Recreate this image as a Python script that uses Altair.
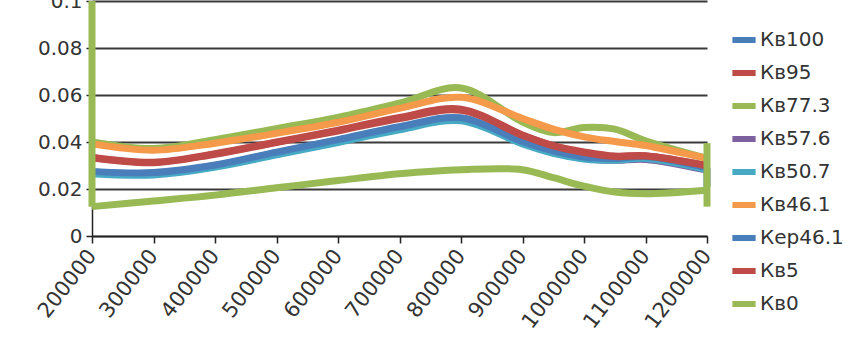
import altair as alt
import pandas as pd

# ---- data ----
x_grid = [200000, 300000, 400000, 500000, 600000, 700000, 800000, 900000,
          950000, 1000000, 1050000, 1100000, 1200000]

series_names = ["Кв100", "Кв95", "Кв77.3", "Кв57.6", "Кв50.7", "Кв46.1",
                "Кер46.1", "Кв5", "Кв0"]
series_colors = ["#4A7EBB", "#BE4B48", "#98B954", "#7D60A0", "#46AAC5",
                 "#F59A4B", "#4A7EBB", "#BE4B48", "#98B954"]

kv100 = [0.0272, 0.0267, 0.0300, 0.0355, 0.0408, 0.0463, 0.0500, 0.0400,
         0.0360, 0.0335, 0.0328, 0.0335, 0.0285]
kv95 = [0.0335, 0.0314, 0.0350, 0.0400, 0.0450, 0.0505, 0.0540, 0.0430,
        0.0385, 0.0358, 0.0340, 0.0342, 0.0300]
kv77 = [0.0400, 0.0372, 0.0410, 0.0457, 0.0505, 0.0565, 0.0630, 0.0485,
        0.0440, 0.0462, 0.0455, 0.0405, 0.0330]
kv57 = [0.0270, 0.0265, 0.0298, 0.0352, 0.0405, 0.0460, 0.0497, 0.0397,
        0.0357, 0.0330, 0.0322, 0.0326, 0.0280]
kv50 = [0.0265, 0.0260, 0.0293, 0.0345, 0.0398, 0.0452, 0.0490, 0.0392,
        0.0352, 0.0328, 0.0322, 0.0330, 0.0283]
kv46 = [0.0392, 0.0365, 0.0395, 0.0437, 0.0484, 0.0543, 0.0590, 0.0500,
        0.0455, 0.0422, 0.0402, 0.0385, 0.0330]
kep46 = [0.0275, 0.0270, 0.0302, 0.0357, 0.0410, 0.0465, 0.0503, 0.0402,
         0.0362, 0.0336, 0.0330, 0.0338, 0.0290]
kv5 = [0.0333, 0.0312, 0.0348, 0.0398, 0.0447, 0.0500, 0.0535, 0.0428,
       0.0383, 0.0355, 0.0338, 0.0340, 0.0298]
kv0 = [0.0125, 0.0149, 0.0174, 0.0205, 0.0236, 0.0265, 0.0282, 0.0282,
       0.0248, 0.0212, 0.0187, 0.0180, 0.0195]

# vertical strokes at the ends of some series
seg_series = ["Кер46.1", "Кв0", "Кв0"]
seg_x = [1200000, 200000, 1200000]
seg_y1 = [0.0290, 0.0125, 0.0125]
seg_y2 = [0.0210, 0.1000, 0.0395]

x_ticks = [200000, 300000, 400000, 500000, 600000, 700000, 800000, 900000,
           1000000, 1100000, 1200000]
y_ticks = [0, 0.02, 0.04, 0.06, 0.08, 0.1]

# ---- build tables ----
series_values = {
    "Кв100": kv100, "Кв95": kv95, "Кв77.3": kv77, "Кв57.6": kv57,
    "Кв50.7": kv50, "Кв46.1": kv46, "Кер46.1": kep46, "Кв5": kv5, "Кв0": kv0,
}
rows = []
for name in series_names:
    for i, (xv, yv) in enumerate(zip(x_grid, series_values[name])):
        rows.append({"series": name, "x": xv, "y": yv, "i": i})
df = pd.DataFrame(rows)
seg_df = pd.DataFrame({"series": seg_series, "x": seg_x, "y": seg_y1, "y2": seg_y2})

FONT = "DejaVu Sans"
color_scale = alt.Scale(domain=series_names, range=series_colors)

x_enc = alt.X("x:Q",
              scale=alt.Scale(domain=[200000, 1200000], nice=False, zero=False),
              axis=alt.Axis(values=x_ticks, format="d", title=None, grid=False,
                            labelAngle=-52, labelAlign="right",
                            labelBaseline="middle", labelPadding=9,
                            labelFontSize=21,
                            labelOverlap=False, tickSize=7))
y_enc = alt.Y("y:Q",
              scale=alt.Scale(domain=[0, 0.1], nice=False),
              axis=alt.Axis(values=y_ticks, format=".2~f", title=None,
                            grid=True, tickSize=6, labelPadding=4))
color_enc = alt.Color("series:N", scale=color_scale,
                      legend=alt.Legend(title=None, orient="none",
                                        legendX=637, legendY=24,
                                        symbolType="stroke", symbolSize=540,
                                        symbolStrokeWidth=6, labelFontSize=20,
                                        labelFont=FONT, labelColor="#333333",
                                        rowPadding=6, labelOffset=1,
                                        padding=0))

layers = []
for name in series_names:
    layers.append(
        alt.Chart(df)
        .transform_filter(alt.datum.series == name)
        .mark_line(interpolate="catmull-rom", strokeWidth=7, clip=False)
        .encode(x=x_enc, y=y_enc, color=color_enc, order=alt.Order("i:Q"))
    )
    if name in seg_series:
        layers.append(
            alt.Chart(seg_df)
            .transform_filter(alt.datum.series == name)
            .mark_rule(strokeWidth=7, strokeCap="butt")
            .encode(x=alt.X("x:Q"), y=alt.Y("y:Q"), y2="y2:Q",
                    color=alt.Color("series:N", scale=color_scale))
        )

chart = (
    alt.layer(*layers)
    .properties(width=615, height=235,
                autosize=alt.AutoSizeParams(type="none"),
                padding={"left": 92, "top": 1, "right": 149, "bottom": 114})
    .configure_view(stroke=None)
    .configure_axis(labelFont=FONT, labelFontSize=20, labelColor="#333333",
                    domainColor="#222222", domainWidth=1.5,
                    tickColor="#222222", tickWidth=1.5,
                    gridColor="#3a3a3a", gridWidth=2)
)

chart.save("out.html", embed_options={"renderer": "svg", "actions": False})
